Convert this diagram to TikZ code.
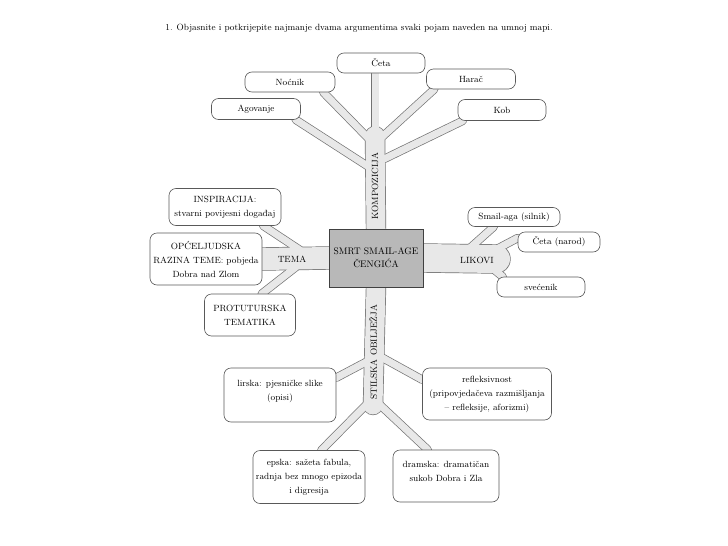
\documentclass[tikz,border=0pt]{standalone}
\usepackage{fontspec}
\usetikzlibrary{backgrounds}
\begin{document}
\begin{tikzpicture}[x=1pt, y=-1pt,
        box/.style={draw=black!65, fill=white, rounded corners=7pt, line width=0.6pt,
            align=center, inner sep=1pt, font=\fontsize{9}{14}\selectfont},
        lbl/.style={inner sep=0pt, font=\fontsize{9}{11}\selectfont},
        bandout/.style={draw=black!55, line cap=round},
        bandin/.style={draw=black!9, line cap=round}]
        \useasboundingbox (0,0) rectangle (728,546);

        % Naslov
        \node[lbl] (naslov) at (359,28) {1. Objasnite i potkrijepite najmanje dvama argumentima svaki pojam naveden na umnoj mapi.};

        % Sredina
        \node[draw=black!75, fill=black!28, line width=0.6pt, minimum width=94pt, minimum height=58pt,
            align=center, font=\fontsize{9.5}{13}\selectfont] (c) at (376,258) {SMRT SMAIL-AGE\\ČENGIĆA};

        % Kompozicija
        \node[box, minimum width=88pt, minimum height=20pt] (ceta)     at (381,63)  {Četa};
        \node[box, minimum width=90pt, minimum height=20pt] (nocnik)   at (290,82)  {Noćnik};
        \node[box, minimum width=89pt, minimum height=20pt] (harac)    at (471,79)  {Harač};
        \node[box, minimum width=89pt, minimum height=21pt] (agovanje) at (256,109) {Agovanje};
        \node[box, minimum width=88pt, minimum height=21pt] (kob)      at (502,110) {Kob};

        % Tema
        \node[box, minimum width=112pt, minimum height=37pt] (inspiracija) at (225,207) {INSPIRACIJA:\\stvarni povijesni događaj};
        \node[box, minimum width=112pt, minimum height=52pt] (opceljudska) at (206,259) {OPĆELJUDSKA\\RAZINA TEME: pobjeda\\Dobra nad Zlom};
        \node[box, minimum width=91pt,  minimum height=42pt] (protuturska) at (250,315) {PROTUTURSKA\\TEMATIKA};

        % Likovi
        \node[box, minimum width=92pt, minimum height=19pt] (smail)     at (514,217) {Smail-aga (silnik)};
        \node[box, minimum width=82pt, minimum height=20pt] (cetanarod) at (559,242) {Četa (narod)};
        \node[box, minimum width=88pt, minimum height=20pt] (svecenik)  at (541,287) {svećenik};

        % Stilska obilježja
        \node[box, minimum width=112pt, minimum height=54pt] (lirska)  at (280,395) {lirska: pjesničke slike\\(opisi)\\[-4pt]\mbox{}};
        \node[box, minimum width=129pt, minimum height=52pt] (refleks) at (487,394) {refleksivnost\\(pripovjedačeva razmišljanja\\– refleksije, aforizmi)};
        \node[box, minimum width=112pt, minimum height=53pt] (epska)   at (309,477) {epska: sažeta fabula,\\radnja bez mnogo epizoda\\i digresija};
        \node[box, minimum width=106pt, minimum height=52pt] (dramska) at (446,476) {dramska: dramatičan\\sukob Dobra i Zla\\[-4pt]\mbox{}};

        % Tocke grananja
        \coordinate (kt) at (375,136);
        \coordinate (k1) at (369,139);
        \coordinate (k2) at (382,137);
        \coordinate (k3) at (369,167);
        \coordinate (k4) at (382,160);
        \coordinate (cetaend)     at (kt |- ceta.south);
        \coordinate (nocnikend)   at ([xshift=-12pt]nocnik.south east);
        \coordinate (haracend)    at ([xshift=8pt]harac.south west);
        \coordinate (agovanjeend) at ([xshift=-5pt]agovanje.south east);
        \coordinate (kobend)      at ([xshift=5pt]kob.south west);

        \coordinate (t1) at (300,250);
        \coordinate (t2) at (296,267);
        \coordinate (inspend) at ([xshift=-18pt]inspiracija.south east);
        \coordinate (protend) at ([xshift=-34pt]protuturska.north east);

        \coordinate (lk) at (496,259);
        \coordinate (l1) at (470,248);
        \coordinate (l2) at (495,250);
        \coordinate (l3) at (492,268);
        \coordinate (smailend) at ([xshift=26pt]smail.south west);
        \coordinate (cnend)    at ([yshift=4pt]cetanarod.west);
        \coordinate (svecend)  at ([xshift=6pt]svecenik.north west);

        \coordinate (st) at (373,405);
        \coordinate (s1) at (366,362);
        \coordinate (s2) at (381,357);
        \coordinate (s3) at (367,404);
        \coordinate (s4) at (379,404);
        \coordinate (lirend)  at ([yshift=-10pt]lirska.north east);
        \coordinate (refend)  at ([yshift=-12pt]refleks.north west);
        \coordinate (epend)   at ([xshift=-44pt]epska.north east);
        \coordinate (dramend) at ([xshift=35pt]dramska.north west);

        % Grane
        \def\grane{c.north/kt/19pt, kt/cetaend/7pt, k1/nocnikend/7pt, k2/haracend/7pt, k3/agovanjeend/7pt, k4/kobend/7pt,
            c.west/opceljudska.east/22pt, t1/inspend/7pt, t2/protend/7pt,
            c.east/lk/28pt, l1/smailend/7pt, l2/cnend/7pt, l3/svecend/7pt,
            c.south/st/19pt, s1/lirend/7pt, s2/refend/7pt, s3/epend/7pt, s4/dramend/7pt}
        \begin{scope}[on background layer]
            \foreach \a/\b/\w in \grane \draw[bandout, line width=\w+1.4pt] (\a) -- (\b);
            \foreach \a/\b/\w in \grane \draw[bandin, line width=\w] (\a) -- (\b);
        \end{scope}

        % Natpisi na granama
        \node[lbl, rotate=90] (komp)   at (375,186) {KOMPOZICIJA};
        \node[lbl, rotate=90] (stil)   at (373,352) {STILSKA OBILJEŽJA};
        \node[lbl]            (tema)   at (292,259) {TEMA};
        \node[lbl]            (likovi) at (477,260) {LIKOVI};
    \end{tikzpicture}
\end{document}
